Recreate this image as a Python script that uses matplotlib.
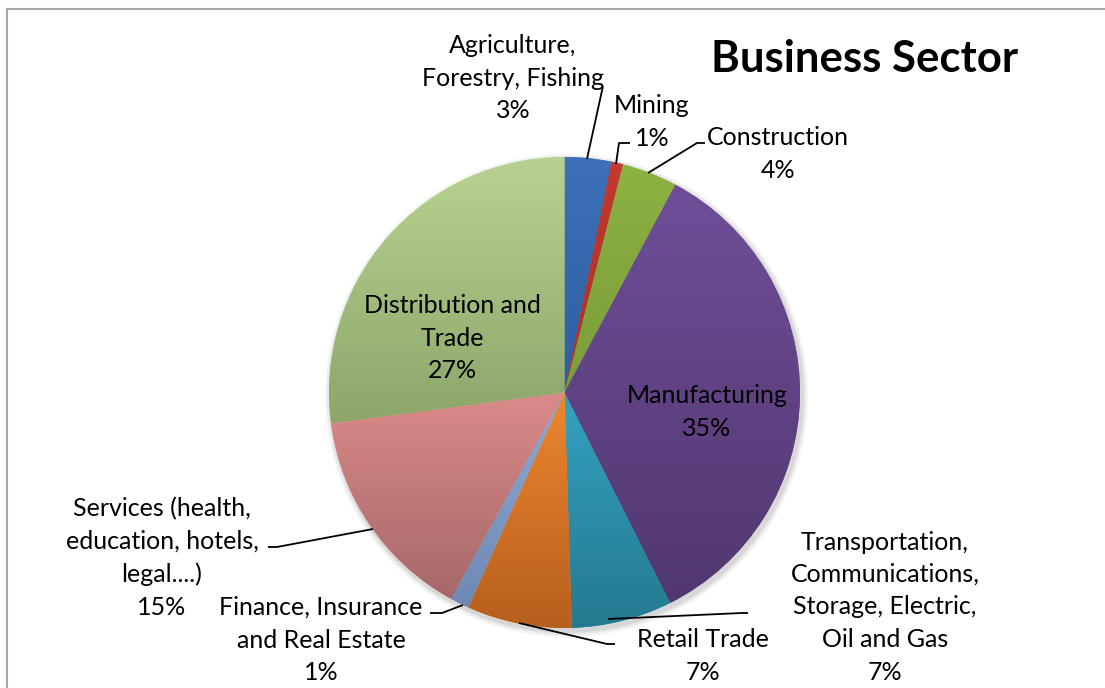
import numpy as np
import matplotlib
matplotlib.use("Agg")
import matplotlib.pyplot as plt
from matplotlib.colors import LinearSegmentedColormap
from matplotlib.patches import Circle

# ---- data ----
sectors = [
    "Agriculture,\nForestry, Fishing",
    "Mining",
    "Construction",
    "Manufacturing",
    "Transportation,\nCommunications,\nStorage, Electric,\nOil and Gas",
    "Retail Trade",
    "Finance, Insurance\nand Real Estate",
    "Services (health,\neducation, hotels,\nlegal....)",
    "Distribution and\nTrade",
]
shares = [3.2, 0.8, 3.8, 34.8, 6.9, 7.2, 1.3, 14.9, 27.1]
title = "Business Sector"

# gradient colours (top, bottom)
top_colors = ["#3C71BA", "#C4392F", "#8DB242", "#6F4E98", "#35A2C0",
              "#EE8730", "#8EABD8", "#DB8B89", "#B8D391"]
bottom_colors = ["#2F5E9F", "#A8302A", "#7B9C39", "#513770", "#237A90",
                 "#B65F1D", "#6D89B3", "#A56868", "#8CA66A"]

# ---- layout (pixel coordinates, y downward) ----
W, H = 1105, 688
cx, cy, R = 564.5, 392.5, 235.5

label_pos = [(513, 78), (652, 122), (778, 154), (707, 412), (885, 607),
             (703, 656), (321, 640), (162, 558), (452, 338)]
leaders = [
    [(587, 159), (603, 86)],
    [(616, 164), (619, 143), (630, 143)],
    [(648, 173), (697, 143), (705, 143)],
    None,
    [(608, 619), (742, 613), (748, 613)],
    [(519, 623), (607, 644), (615, 644)],
    [(463, 605), (442, 613), (430, 613)],
    [(373, 529), (277, 547), (268, 547)],
    None,
]

FONT = "Lato"

def P(x, y):
    return x, H - y

fig = plt.figure(figsize=(W / 100, H / 100), dpi=100)
ax = fig.add_axes([0, 0, 1, 1])

# soft shadow
for k, a in zip([6, 4, 2], [0.04, 0.05, 0.07]):
    ax.add_patch(Circle(P(cx + 2, cy + 3), R + k, color="black", alpha=a,
                        lw=0, zorder=0.5))

wedges, _ = ax.pie(shares, startangle=90, counterclock=False,
                   center=P(cx, cy), radius=R, colors=top_colors,
                   wedgeprops=dict(linewidth=0), frame=False)

grad = np.linspace(0, 1, 256).reshape(-1, 1)
for w, ct, cb in zip(wedges, top_colors, bottom_colors):
    w.set_zorder(1)
    bb = w.get_path().get_extents()
    cmap = LinearSegmentedColormap.from_list("g", [cb, ct])
    im = ax.imshow(grad, cmap=cmap, extent=(bb.x0, bb.x1, bb.y0, bb.y1),
                   origin="lower", aspect="auto", zorder=2,
                   interpolation="bilinear")
    im.set_clip_path(w)

pcts = [f"{round(s):d}%" for s in shares]
for name, pct, (lx, ly), ld in zip(sectors, pcts, label_pos, leaders):
    ax.text(*P(lx, ly), f"{name}\n{pct}", ha="center", va="center",
            fontsize=18, family=FONT, color="black", linespacing=1.5,
            zorder=5)
    if ld:
        xs, ys = zip(*[P(x, y) for x, y in ld])
        ax.plot(xs, ys, color="black", lw=1.3, zorder=4,
                solid_capstyle="butt")

ax.text(*P(865, 59), title, ha="center", va="center", fontsize=31.5,
        fontweight="bold", family=FONT, color="black", zorder=5)

# chart border (top and left visible)
ax.plot([6.5, 6.5], [0, H - 8.5], color="#A6A6A6", lw=1.5, zorder=6)
ax.plot([6.5, W], [H - 8.5, H - 8.5], color="#A6A6A6", lw=1.5, zorder=6)

ax.set_xlim(0, W)
ax.set_ylim(0, H)
ax.set_aspect("auto")
ax.axis("off")
fig.savefig("out.png", dpi=100, facecolor="white")
